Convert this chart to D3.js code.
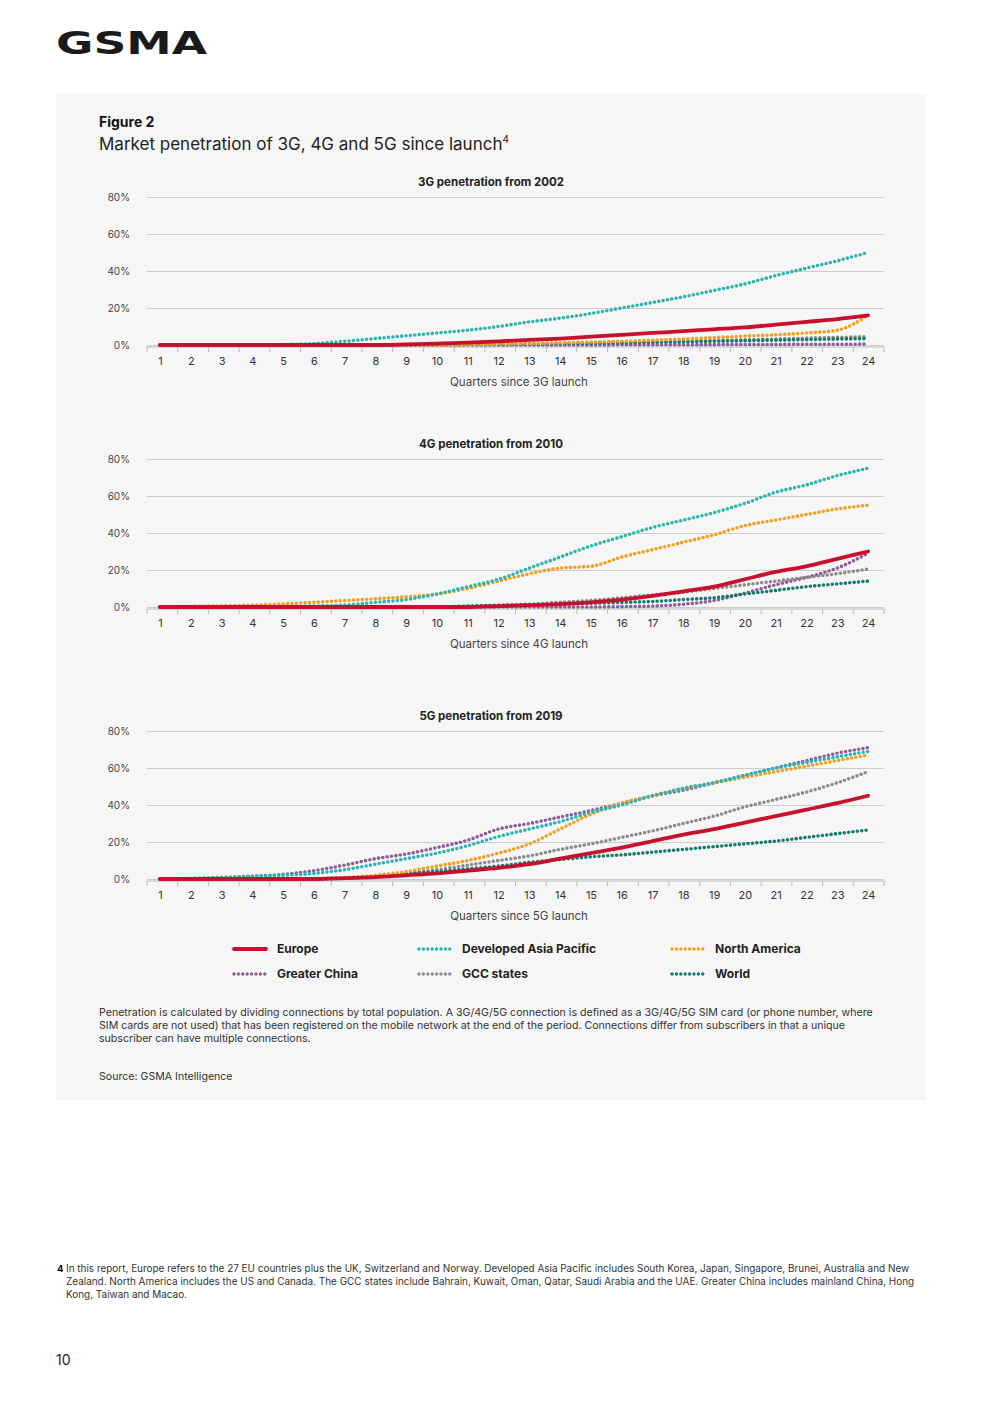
<!DOCTYPE html>
<html><head><meta charset="utf-8">
<script src="https://cdn.jsdelivr.net/npm/d3@7"></script>
<style>body{margin:0;background:#fff;font-family:Inter,"Noto Sans",sans-serif}</style>
</head><body>
<svg id="page" width="992" height="1403"></svg>
<script>
const quarters = d3.range(1, 25)
const seriesNames = ["Greater China", "GCC states", "World", "North America", "Developed Asia Pacific", "Europe"]
const colors = {"Europe":"#c8102e","Developed Asia Pacific":"#2bb5b0","North America":"#f0a020","Greater China":"#8e5b9b","GCC states":"#8c8c8c","World":"#137a6e"}

const g3 = {
  "Developed Asia Pacific":[0,0,0,0,0.2,0.8,2,3.5,5,6.5,8,10,12.5,14.5,17,20,23,26,29.5,33,37.5,41.5,45.5,50],
  "Europe":[0,0,0,0,0,0,0,0,0.3,0.7,1.3,2,2.8,3.5,4.5,5.5,6.5,7.5,8.5,9.5,11,12.5,14,16],
  "North America":[0,0,0,0,0,0,0,0,0,0,0.2,0.5,0.8,1.2,1.6,2,2.6,3.2,4,4.8,5.5,6.5,8,16],
  "GCC states":[0,0,0,0,0,0,0,0,0,0,0.2,0.4,0.6,0.8,1,1.3,1.6,2,2.4,2.8,3.2,3.7,4.1,4.5],
  "World":[0,0,0,0,0,0,0,0,0,0,0.1,0.3,0.5,0.7,0.9,1.1,1.4,1.7,2,2.3,2.6,2.9,3.2,3.5],
  "Greater China":[0,0,0,0,0,0,0,0,0,0,0,0,0,0,0,0.1,0.1,0.2,0.2,0.3,0.3,0.4,0.4,0.5]
}
const g4 = {
  "Developed Asia Pacific":[0,0,0,0,0.2,0.5,1,2.5,4,7,11,15,21,27,33,38,43,47,51,56,62,66,71,75],
  "North America":[0,0.3,0.6,1,1.7,2.5,3.5,4.5,5.5,7,10,14,18,21,22,27,31,35,39,44,47,50,53,55],
  "Europe":[0,0,0,0,0,0,0,0,0,0,0,0.5,1,1.5,2.5,4,6,8.5,11,15,19,22,26,30],
  "GCC states":[0,0,0,0,0,0,0,0,0,0,0.5,1,1.5,2.5,3.5,5,6.5,8,10,12,14,16,18,20.5],
  "World":[0,0,0,0,0,0,0,0,0,0,0.5,0.8,1.2,1.6,2,2.5,3,4,5,7,9,11,12.5,14],
  "Greater China":[0,0,0,0,0,0,0,0,0,0,0,0,0,0,0,0.2,0.5,1.5,3.5,7.5,12,16,21,29]
}
const g5 = {
  "Greater China":[0,0.3,0.8,1.5,2.5,4.5,7.5,11,13.5,17,21,27,30,33.5,37,41,45,48,52,56,60,64,68,71],
  "Developed Asia Pacific":[0,0.3,0.8,1.5,2,3,5,8,11,14,18,23,27,31,36,40,45,49,52,56,60,63,66,69],
  "North America":[0,0,0,0,0,0.3,0.8,2,4,7,10,14,19,27,35,41,45,49,52,55,58,61,64,67],
  "GCC states":[0,0,0,0,0,0,0.5,1.5,3,5,7.5,10,12.5,16,19,22.5,26,30,34,39,43,47,52,58],
  "Europe":[0,0,0,0,0,0,0.5,1,2,3,4.5,6,8,11,14,17,20.5,24,27,30.5,34,37.5,41,45],
  "World":[0,0,0,0,0,0,0.5,1.5,3,4,5.5,7,9,10.5,12,13,14.5,16,17.5,19,20.5,22.5,24.5,26.5]
}
const yTicks = [0, 20, 40, 60, 80]
const legendOrder = ["Europe","Developed Asia Pacific","North America","Greater China","GCC states","World"]

const svg = d3.select("#page")
svg.append("rect").attr("x",56).attr("y",94).attr("width",870).attr("height",1006).attr("fill","#f6f6f6")
svg.append("text").attr("x",56).attr("y",54).attr("font-size",32).attr("font-weight",900)
  .attr("font-family","'DejaVu Sans'").attr("textLength",151).attr("lengthAdjust","spacingAndGlyphs").attr("fill","#1a1a1a").text("GSMA")
svg.append("text").attr("x",99).attr("y",127).attr("font-size",14).attr("font-weight",700).attr("fill","#111").text("Figure 2")
const sub = svg.append("text").attr("x",99).attr("y",150).attr("font-size",17).attr("fill","#222").text("Market penetration of 3G, 4G and 5G since launch")
sub.append("tspan").attr("font-size",10).attr("dy",-7).text("4")

const x = d3.scalePoint().domain(quarters).range([160, 868])

function chart(data, top, title, xlabel) {
  const y = d3.scaleLinear().domain([0, 80]).range([top + 148, top])
  const g = svg.append("g")
  g.append("text").attr("x",491).attr("y",top-11).attr("text-anchor","middle").attr("font-size",11.5).attr("font-weight",700).attr("fill","#222").text(title)
  g.append("g").attr("transform","translate(147,0)")
    .call(d3.axisLeft(y).tickValues(yTicks).tickSize(-737).tickFormat(d => d + "%"))
    .call(a => a.select(".domain").remove())
    .call(a => a.selectAll(".tick line").attr("stroke","#ccc"))
    .call(a => a.selectAll(".tick text").attr("x",-17).attr("font-size",10).attr("fill","#444").attr("font-family","Inter"))
  g.append("g").attr("transform",`translate(0,${top+150})`)
    .call(d3.axisBottom(x).tickSizeOuter(0).tickSize(0))
    .call(a => a.select(".domain").attr("d","M147,0H884").attr("stroke","#bbb"))
    .call(a => a.selectAll(".tick text").attr("dy",15).attr("font-size",11).attr("fill","#333").attr("font-family","Inter"))
  const bounds = d3.range(0, 25).map(i => 147 + i * 737 / 24)
  g.append("g").selectAll("line").data(bounds).join("line")
    .attr("x1",d=>d).attr("x2",d=>d).attr("y1",top+150).attr("y2",top+155).attr("stroke","#bbb")
  g.append("text").attr("x",519).attr("y",top+189).attr("text-anchor","middle").attr("font-size",11.5).attr("fill","#444").text(xlabel)
  const line = d3.line().x((d,i) => x(quarters[i])).y(d => y(d)).curve(d3.curveMonotoneX)
  seriesNames.forEach(n => {
    const eu = n === "Europe"
    g.append("path").attr("d", line(data[n])).attr("fill","none").attr("stroke",colors[n])
      .attr("stroke-width", eu ? 3.8 : 3.6).attr("stroke-linecap","round")
      .attr("stroke-dasharray", eu ? null : "0 4.4")
  })
}
chart(g3, 197, "3G penetration from 2002", "Quarters since 3G launch")
chart(g4, 459, "4G penetration from 2010", "Quarters since 4G launch")
chart(g5, 731, "5G penetration from 2019", "Quarters since 5G launch")

const lg = svg.append("g")
legendOrder.forEach((n, i) => {
  const lx = [234, 419, 672][i % 3], ly = 949 + Math.floor(i / 3) * 25
  const eu = n === "Europe"
  lg.append("line").attr("x1",lx).attr("x2",lx+32).attr("y1",ly).attr("y2",ly).attr("stroke",colors[n])
    .attr("stroke-width", eu ? 3.8 : 3.4).attr("stroke-linecap","round").attr("stroke-dasharray", eu ? null : "0 4.4")
  lg.append("text").attr("x",lx+43).attr("y",ly+4).attr("font-size",12).attr("font-weight",700).attr("fill","#222").text(n)
})

const note = ["Penetration is calculated by dividing connections by total population. A 3G/4G/5G connection is defined as a 3G/4G/5G SIM card (or phone number, where",
 "SIM cards are not used) that has been registered on the mobile network at the end of the period. Connections differ from subscribers in that a unique",
 "subscriber can have multiple connections."]
note.forEach((t,i) => svg.append("text").attr("x",99).attr("y",1016+i*13).attr("font-size",10.6).attr("fill","#333").text(t))
svg.append("text").attr("x",99).attr("y",1080).attr("font-size",10.6).attr("fill","#333").text("Source: GSMA Intelligence")

const foot = ["In this report, Europe refers to the 27 EU countries plus the UK, Switzerland and Norway. Developed Asia Pacific includes South Korea, Japan, Singapore, Brunei, Australia and New",
 "Zealand. North America includes the US and Canada. The GCC states include Bahrain, Kuwait, Oman, Qatar, Saudi Arabia and the UAE. Greater China includes mainland China, Hong",
 "Kong, Taiwan and Macao."]
svg.append("text").attr("x",57).attr("y",1272).attr("font-size",9.5).attr("font-weight",700).text("4")
foot.forEach((t,i) => svg.append("text").attr("x",66).attr("y",1272+i*13).attr("font-size",9.95).attr("fill","#333").text(t))
svg.append("text").attr("x",56).attr("y",1365).attr("font-size",14).attr("fill","#222").text("10")
</script>
</body></html>
